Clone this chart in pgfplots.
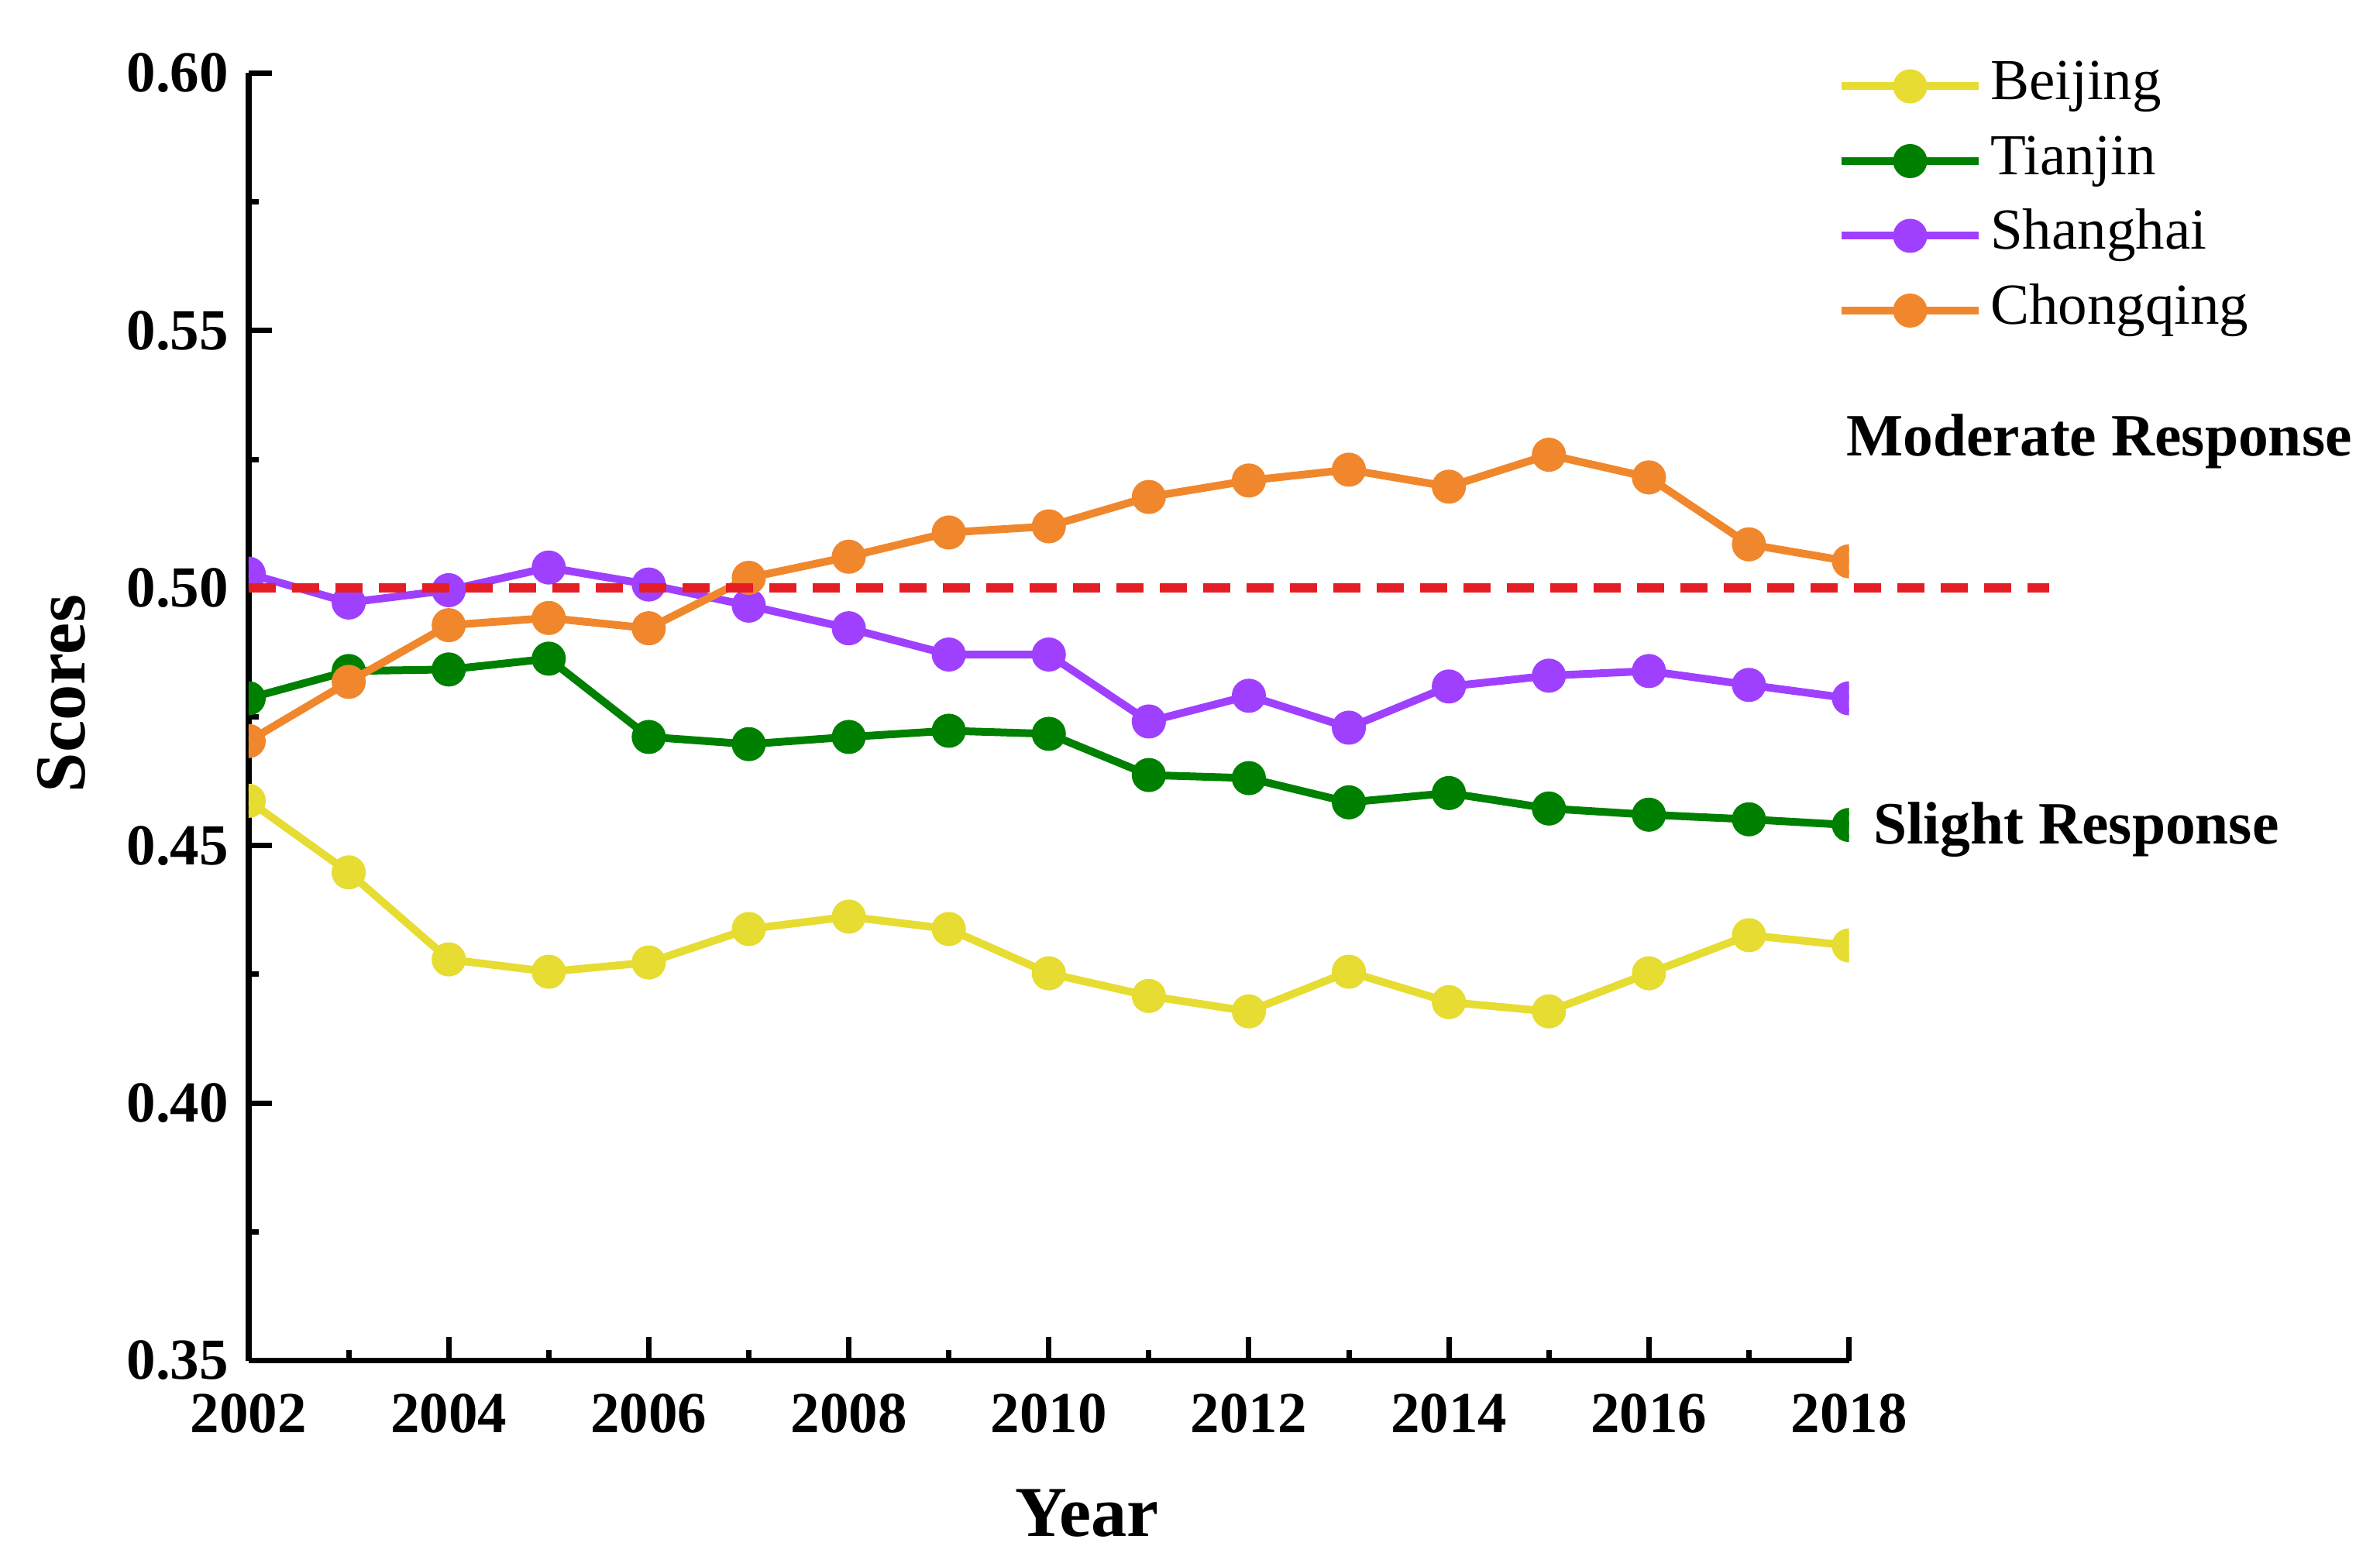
\documentclass[border=0pt]{standalone}
\usepackage{fontspec}
\setmainfont{Liberation Serif}
\usepackage{pgfplots}
\pgfplotsset{compat=1.18}

\definecolor{bjyellow}{RGB}{230,220,50}
\definecolor{tjgreen}{RGB}{0,128,0}
\definecolor{shpurple}{RGB}{160,64,255}
\definecolor{cqorange}{RGB}{240,135,45}
\definecolor{refred}{RGB}{228,30,36}

\begin{document}
\begin{tikzpicture}
\useasboundingbox (-64.2pt,-49.5pt) rectangle (550.2pt,351.3pt);
\begin{axis}[
    at={(0pt,0pt)}, anchor=south west,
    scale only axis, width=413.1pt, height=332.4pt,
    xmin=2002, xmax=2018, ymin=0.35, ymax=0.60,
    clip marker paths=true,
    axis lines=left, axis line style={-, line width=1.5pt},
    tick align=inside,
    major tick length=6pt, minor tick length=2.6pt,
    every tick/.style={black, line width=1.4pt},
    xtick={2002,2004,2006,2008,2010,2012,2014,2016,2018}, minor x tick num=1,
    ytick={0.35,0.40,0.45,0.50,0.55,0.60}, minor y tick num=1,
    /pgf/number format/assume math mode=true,
    tick label style={font=\bfseries\fontsize{15}{18}\selectfont},
    xticklabel style={/pgf/number format/1000 sep={}, yshift=-5pt},
    yticklabel style={/pgf/number format/fixed, /pgf/number format/fixed zerofill,
        /pgf/number format/precision=2, xshift=-1.7pt},
    xlabel={Year}, ylabel={Scores},
    label style={font=\bfseries\fontsize{18.5}{22}\selectfont},
    xlabel style={at={(axis description cs:0.524,-0.1185)}, anchor=center},
    ylabel style={at={(axis description cs:-0.117,0.518)}, anchor=center},
    legend style={at={(1,1)}, anchor=north west, xshift=-3.1pt, yshift=3.8pt,
        draw=none, fill=none, inner sep=0pt, row sep=5.3pt, column sep=2pt,
        font=\fontsize{15}{18}\selectfont,
        nodes={inner sep=0pt, text height=10.5pt, text depth=3.5pt}},
    legend cell align=left,
    legend image code/.code={\draw[mark repeat=2, mark phase=2]
        plot coordinates {(0pt,0pt) (17.7pt,0pt) (35.4pt,0pt)};},
    every axis plot/.append style={line width=2pt, mark=*, mark size=3.4pt},
]
\addplot[color=bjyellow] coordinates {
    (2002,0.4587) (2003,0.4448) (2004,0.4279) (2005,0.4255) (2006,0.4273)
    (2007,0.4338) (2008,0.4362) (2009,0.4338) (2010,0.4252) (2011,0.4208)
    (2012,0.4178) (2013,0.4255) (2014,0.4196) (2015,0.4178) (2016,0.4252)
    (2017,0.4326) (2018,0.4306)
    };
    \addlegendentry{Beijing}
\addplot[color=tjgreen] coordinates {
    (2002,0.4786) (2003,0.4839) (2004,0.4842) (2005,0.4863) (2006,0.4711)
    (2007,0.4697) (2008,0.4711) (2009,0.4723) (2010,0.4717) (2011,0.4637)
    (2012,0.4631) (2013,0.4584) (2014,0.4602) (2015,0.4572) (2016,0.4560)
    (2017,0.4551) (2018,0.4540)
    };
    \addlegendentry{Tianjin}
\addplot[color=shpurple] coordinates {
    (2002,0.5028) (2003,0.4972) (2004,0.4996) (2005,0.5040) (2006,0.5007)
    (2007,0.4966) (2008,0.4922) (2009,0.4871) (2010,0.4871) (2011,0.4741)
    (2012,0.4791) (2013,0.4729) (2014,0.4809) (2015,0.4830) (2016,0.4839)
    (2017,0.4812) (2018,0.4786)
    };
    \addlegendentry{Shanghai}
\addplot[color=cqorange] coordinates {
    (2002,0.4703) (2003,0.4818) (2004,0.4928) (2005,0.4942) (2006,0.4922)
    (2007,0.5020) (2008,0.5061) (2009,0.5108) (2010,0.5120) (2011,0.5177)
    (2012,0.5209) (2013,0.5230) (2014,0.5197) (2015,0.5259) (2016,0.5215)
    (2017,0.5085) (2018,0.5052)
    };
    \addlegendentry{Chongqing}
\end{axis}
% threshold line runs past the end of the x axis, so it sits in its own unclipped axis
\begin{axis}[
    at={(0pt,0pt)}, anchor=south west,
    scale only axis, width=464.7pt, height=332.4pt,
    xmin=2002, xmax=2020, ymin=0.35, ymax=0.60,
    hide axis, clip=false,
]
\addplot[refred, line width=2.4pt, dash pattern=on 6.9pt off 4.3pt]
    coordinates {(2002,0.5) (2020,0.5)};
\node[anchor=base west, inner sep=0pt, font=\bfseries\fontsize{15.5}{18}\selectfont]
    at (axis cs:2017.97,0.5257) {Moderate Response};
\node[anchor=base west, inner sep=0pt, font=\bfseries\fontsize{15.5}{18}\selectfont]
    at (axis cs:2018.24,0.4504) {Slight Response};
\end{axis}
\end{tikzpicture}
\end{document}
